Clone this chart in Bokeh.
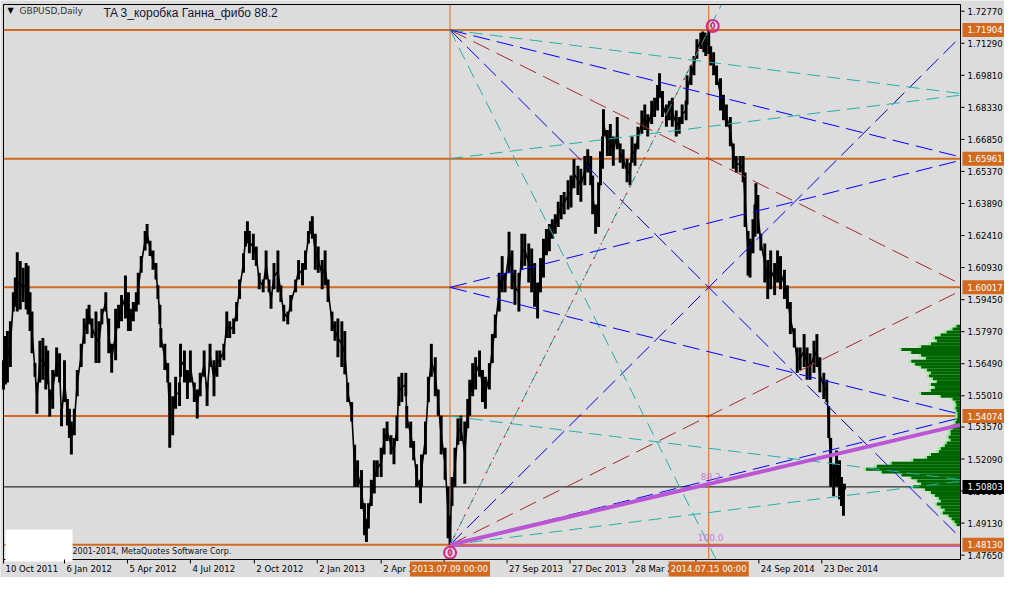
from bokeh.plotting import figure
from bokeh.models import Range1d
from bokeh.embed import file_html
from bokeh.resources import INLINE
from bokeh.core.properties import value

# ---------------- data ----------------
# trading-day index since 10 Oct 2011 (sampled), with the high / low of the bars around it
bar_index = [0,2,4,7,10,12,14,17,20,23,25,27,29,32,34,37,40,43,45,47,
             50,54,57,59,62,65,67,69,72,75,79,82,85,87,90,94,97,100,104,107,
             110,114,117,120,124,127,129,132,135,137,140,144,146,149,152,155,157,159,160,164,
             167,169,172,175,179,180,184,187,190,194,197,200,204,207,210,214,217,220,224,227,
             230,234,237,240,244,246,248,250,254,257,260,264,267,270,272,275,279,282,285,289,
             292,297,300,304,307,310,312,314,317,320,324,327,330,334,337,
             340,344,347,350,354,357,360,364,367,369,371,374,377,380,384,387,390,394,397,400,
             402,405,409,410,414,417,420,424,425,429,432,435,439,442,445,449,452,454,456,459,
             462,465,469,472,474,477,480,484,487,490,494,497,500,504,507,510,514,517,520,524,
             527,530,534,537,540,543,546,549,552,555,
             558,561,564,567,570,574,577,580,584,587,591,594,597,599,602,605,607,609,610,614,
             617,620,624,627,630,634,637,639,642,645,649,652,655,659,662,665,667,670,674,677,
             680,684,687,690,694,695,699,702,705,709,711,712,714,717,719,722,725,729,732,735,
             739,742,745,749,752,754,757,759,762,764,765,767,770,774,777,780,784,787,790,794,
             797,800,804,807,810,814,817,820,824,827,830,834,837,839,841,844,847,850,852,854,855]
bar_high = [1.5665,1.5777,1.5800,1.5845,1.5979,1.6047,1.6164,1.6123,1.6092,1.6114,1.6101,1.5979,1.5890,1.5652,1.5562,1.5755,1.5768,1.5732,1.5710,1.5530,
            1.5620,1.5724,1.5697,1.5441,1.5665,1.5486,1.5441,1.5382,1.5441,1.5620,1.5741,1.5858,1.5903,1.5921,1.5858,1.5890,1.5845,1.5903,1.5979,1.5858,
            1.5741,1.5903,1.5921,1.5966,1.6056,1.5979,1.5903,1.5934,1.5979,1.6069,1.6146,1.6262,1.6294,1.6217,1.6172,1.6114,1.6011,1.5921,1.5813,1.5741,
            1.5652,1.5562,1.5499,1.5589,1.5562,1.5741,1.5710,1.5620,1.5710,1.5562,1.5530,1.5607,1.5710,1.5562,1.5741,1.5665,1.5710,1.5710,1.5741,1.5890,
            1.5845,1.5858,1.5934,1.6038,1.6159,1.6262,1.6307,1.6262,1.6249,1.6190,1.6069,1.6038,1.6172,1.6038,1.5979,1.6114,1.6172,1.6011,1.5921,1.5890,
            1.5966,1.6038,1.6128,1.6114,1.6172,1.6262,1.6307,1.6330,1.6249,1.6190,1.6128,1.6172,1.6038,1.5890,1.5845,
            1.5858,1.5845,1.5800,1.5562,1.5472,1.5275,1.5203,1.5158,1.5005,1.4933,1.5005,1.5113,1.5203,1.5203,1.5261,1.5351,1.5382,1.5319,1.5306,1.5409,
            1.5589,1.5607,1.5607,1.5454,1.5382,1.5292,1.5185,1.5113,1.5230,1.5382,1.5589,1.5741,1.5679,1.5530,1.5409,1.5261,1.5081,1.4947,1.5126,1.5261,
            1.5396,1.5409,1.5382,1.5486,1.5575,1.5652,1.5679,1.5710,1.5620,1.5589,1.5652,1.5786,1.5876,1.6069,1.6146,1.6069,1.6258,1.6172,1.6083,1.6069,
            1.6249,1.6249,1.6204,1.6181,1.6114,1.6024,1.6137,1.6226,1.6271,1.6294,
            1.6316,1.6339,1.6397,1.6428,1.6442,1.6496,1.6518,1.6594,1.6563,1.6550,1.6608,1.6639,1.6608,1.6518,1.6384,1.6487,1.6630,1.6698,1.6824,1.6729,
            1.6756,1.6698,1.6788,1.6666,1.6639,1.6594,1.6577,1.6698,1.6666,1.6743,1.6819,1.6846,1.6801,1.6864,1.6877,1.6936,1.6990,1.6909,1.6846,1.6864,
            1.6877,1.6819,1.6788,1.6846,1.6864,1.6981,1.7026,1.7070,1.7147,1.7178,1.7183,1.7178,1.7178,1.71904,1.7115,1.7088,1.7026,1.6967,1.6891,1.6846,
            1.6788,1.6666,1.6608,1.6608,1.6608,1.6532,1.6262,1.6226,1.6316,1.6384,1.6482,1.6428,1.6249,1.6204,1.6128,1.6172,1.6114,1.6172,1.6146,1.6083,
            1.6011,1.5934,1.5813,1.5724,1.5724,1.5786,1.5724,1.5697,1.5755,1.5786,1.5679,1.5607,1.5575,1.5454,1.5306,1.5185,1.5248,1.5203,1.5126,1.5081,1.5095]
bar_low = [1.5530,1.5553,1.5562,1.5634,1.5890,1.5912,1.5890,1.5899,1.5934,1.5899,1.5876,1.5800,1.5697,1.5589,1.5418,1.5562,1.5575,1.5530,1.5553,1.5405,
           1.5441,1.5589,1.5562,1.5360,1.5472,1.5364,1.5306,1.5230,1.5319,1.5499,1.5634,1.5741,1.5786,1.5831,1.5768,1.5652,1.5652,1.5831,1.5890,1.5697,
           1.5607,1.5665,1.5813,1.5845,1.5858,1.5800,1.5800,1.5845,1.5890,1.5921,1.6069,1.6172,1.6204,1.6146,1.6083,1.6038,1.5948,1.5831,1.5724,1.5620,
           1.5562,1.5261,1.5319,1.5441,1.5454,1.5589,1.5562,1.5486,1.5562,1.5472,1.5396,1.5499,1.5589,1.5454,1.5634,1.5499,1.5589,1.5634,1.5665,1.5768,
           1.5768,1.5786,1.5845,1.5948,1.6069,1.6190,1.6204,1.6159,1.6128,1.6101,1.5993,1.5979,1.6038,1.5979,1.5903,1.5993,1.5979,1.5934,1.5845,1.5831,
           1.5890,1.5979,1.6038,1.6011,1.6083,1.6204,1.6249,1.6226,1.6083,1.6069,1.5993,1.6011,1.5934,1.5800,1.5755,
           1.5679,1.5634,1.5600,1.5472,1.5382,1.5081,1.5081,1.4978,1.4857,1.4826,1.4888,1.4992,1.5050,1.5126,1.5126,1.5230,1.5292,1.5230,1.5185,1.5292,
           1.5454,1.5472,1.5499,1.5351,1.5261,1.5203,1.5081,1.5005,1.5081,1.5230,1.5472,1.5589,1.5499,1.5409,1.5230,1.5113,1.4843,1.4813,1.4992,1.5081,
           1.5275,1.5292,1.5095,1.5351,1.5409,1.5499,1.5530,1.5589,1.5472,1.5441,1.5530,1.5652,1.5768,1.5890,1.5979,1.5979,1.6069,1.5993,1.5921,1.5890,
           1.6083,1.6101,1.6024,1.5979,1.5912,1.5858,1.5979,1.6047,1.6150,1.6168,
           1.6226,1.6249,1.6280,1.6316,1.6339,1.6361,1.6370,1.6460,1.6428,1.6397,1.6473,1.6532,1.6473,1.6339,1.6249,1.6280,1.6473,1.6550,1.6698,1.6608,
           1.6608,1.6563,1.6639,1.6577,1.6550,1.6487,1.6473,1.6577,1.6563,1.6639,1.6711,1.6729,1.6698,1.6756,1.6788,1.6819,1.6877,1.6788,1.6743,1.6774,
           1.6743,1.6698,1.6711,1.6756,1.6774,1.6846,1.6936,1.6981,1.7057,1.7102,1.7124,1.7088,1.7070,1.7079,1.7026,1.6981,1.6936,1.6819,1.6774,1.6743,
           1.6653,1.6550,1.6532,1.6532,1.6487,1.6280,1.6056,1.6047,1.6159,1.6235,1.6361,1.6249,1.6172,1.6024,1.5948,1.5993,1.5966,1.6024,1.5993,1.5948,
           1.5903,1.5786,1.5724,1.5607,1.5620,1.5634,1.5575,1.5575,1.5607,1.5634,1.5517,1.5486,1.5472,1.5306,1.5081,1.5037,1.5081,1.5023,1.4992,1.4947,1.5068]

# Gann box anchors: low of 2013.07.09 and high of 2014.07.15
box_start_bar = 454
box_end_bar = 717
box_start_label = "2013.07.09 00:00"
box_end_label = "2014.07.15 00:00"
box_low = 1.48130
box_high = 1.71904
gann_levels = [1.71904, 1.65961, 1.60017, 1.54074, 1.48130]
last_price = 1.50803

# fan lines: start fraction of box height at box start -> fraction reached at box end
fan_start_frac = [0, 0, 0, 0, 0, 1, 1, 1, 1, 1, 0.5, 0.5, 0.25, 0.75]
fan_end_frac = [0.0625, 0.125, 0.25, 0.5, 1.0, 0.9375, 0.875, 0.75, 0.5, 0.0, 0.625, 0.375, 0.1875, 0.8125]
fan_kind = ["teal", "blue", "brown", "blue", "teal", "teal", "blue", "brown", "blue", "teal",
            "blue", "blue", "teal", "teal"]

fib_levels = [88.2, 100.0]

# market profile at the right edge
profile_price = [1.5822,1.5809,1.5795,1.5782,1.5768,1.5755,1.5741,1.5728,1.5715,1.5701,1.5688,1.5674,1.5661,1.5647,
                 1.5634,1.5620,1.5607,1.5593,1.5580,1.5566,1.5553,1.5539,1.5526,1.5512,1.5499,1.5486,1.5472,1.5459,
                 1.5445,1.5432,1.5418,1.5405,1.5391,1.5378,1.5364,1.5351,1.5337,1.5324,1.5310,1.5297,1.5283,1.5270,
                 1.5257,1.5243,1.5230,1.5216,1.5203,1.5189,1.5176,1.5162,1.5149,1.5135,1.5122,1.5108,1.5095,1.5081,
                 1.5068,1.5054,1.5041,1.5028,1.5014,1.5001,1.4987,1.4974,1.4960,1.4947,1.4933,1.4920,1.4906]
profile_len = [4,8,14,20,26,24,30,40,60,50,40,35,50,46,
               40,34,30,32,28,24,30,26,30,40,20,8,5,4,
               5,4,3,3,4,5,7,8,10,10,12,10,14,16,
               20,22,30,34,48,70,85,96,80,60,50,44,40,48,
               36,30,26,22,20,24,20,16,18,12,9,6,4]

price_ticks = [1.72770, 1.71290, 1.69810, 1.68330, 1.66850, 1.65370, 1.63890, 1.62410, 1.60930,
               1.59450, 1.57970, 1.56490, 1.55010, 1.53570, 1.52090, 1.50610, 1.49130, 1.47650]
date_tick_bars = [0, 62, 126, 190, 255, 319, 384, 448, 512, 576, 640, 704, 768, 832]
date_tick_labels = ["10 Oct 2011", "6 Jan 2012", "5 Apr 2012", "4 Jul 2012", "2 Oct 2012", "2 Jan 2013",
                    "2 Apr 2013", "", "27 Sep 2013", "27 Dec 2013", "28 Mar 2014", "", "24 Sep 2014", "23 Dec 2014"]

symbol_text = "GBPUSD,Daily"
title_text = "TA 3_коробка Ганна_фибо 88.2"
copyright_text = "2001-2014, MetaQuotes Software Corp."

# ---------------- style / layout ----------------
BG = "#DCDCDC"
ORANGE = "#D2691E"
COLORS = {"teal": "#20B2AA", "blue": "#0000FF", "brown": "#A52A2A"}
DASHES = {"teal": "13 7", "blue": "17 7", "brown": "18 8"}
MAGENTA = "#BA55D3"
PINK = "#D6248A"
FIB_TXT = "#C77DD9"
FONT = value("DejaVu Sans")
FS = "8.5px"

CW, CH = 1004, 577              # canvas
CL, CR, CT, CB = 3, 960, 4, 559  # chart area inside the canvas (pixels)
X0, X1 = 0, 973                  # bars shown
Y0, Y1 = 1.4745, 1.7308          # prices shown
bx = (X1 - X0) / (CR - CL)       # bars per pixel
py = (Y1 - Y0) / (CB - CT)       # price per pixel

p = figure(width=CW, height=CH,
           x_range=Range1d(X0 - CL * bx, X1 + (CW - CR) * bx),
           y_range=Range1d(Y0 - (CH - CB) * py, Y1 + CT * py),
           x_axis_type=None, y_axis_type=None, output_backend="svg",
           toolbar_location=None, min_border=0)
p.background_fill_color = BG
p.border_fill_color = BG
p.outline_line_color = None


def clip_end(xs, ps, xe, pe):
    """cut a line from (xs, ps) to (xe, pe) at the top / bottom of the chart"""
    if pe > Y1:
        xe = xs + (xe - xs) * (Y1 - ps) / (pe - ps)
        pe = Y1
    elif pe < Y0:
        xe = xs + (xe - xs) * (Y0 - ps) / (pe - ps)
        pe = Y0
    return xe, pe


# horizontal / vertical reference lines
p.segment(x0=[X0] * len(gann_levels), x1=[X1] * len(gann_levels), y0=gann_levels, y1=gann_levels,
          line_color=ORANGE, line_width=2)
p.segment(x0=[X0], x1=[X1], y0=[last_price], y1=[last_price], line_color="black", line_width=1)
p.segment(x0=[box_start_bar, box_end_bar], x1=[box_start_bar, box_end_bar], y0=[Y0, Y0], y1=[Y1, Y1],
          line_color=ORANGE, line_width=1)

# price bars (high-low ranges, joined through their middles)
bar_mid = [(h + l) / 2 for h, l in zip(bar_high, bar_low)]
p.line(bar_index, bar_mid, line_color="black", line_width=1.6)
p.vbar(x=bar_index, width=3.0, top=bar_high, bottom=bar_low, fill_color="black", line_color=None)

# market profile
p.hbar(y=profile_price, height=0.00138, left=[X1 - l - 2.5 for l in profile_len], right=X1,
       fill_color="#90EE90", line_color=None)
p.hbar(y=profile_price, height=0.00138, left=[X1 - l for l in profile_len], right=X1,
       fill_color="#006400", line_color=None)

# Gann fan lines
rng = box_high - box_low
span_x = box_end_bar - box_start_bar
for f0, f1, kind in zip(fan_start_frac, fan_end_frac, fan_kind):
    p0 = box_low + f0 * rng
    p1 = box_low + f1 * rng
    pe = p0 + (p1 - p0) * (X1 - box_start_bar) / span_x
    xe, pe = clip_end(box_start_bar, p0, X1, pe)
    p.line([box_start_bar, xe], [p0, pe], line_color=COLORS[kind], line_dash=DASHES[kind], line_width=1)

# trend line between the two anchors
p.line([box_start_bar, box_end_bar], [box_low, box_high], line_color="#FF0000", line_dash="2 6", line_width=1)

# Fibonacci fan 88.2 / 100
for lv in fib_levels:
    pt = box_high - lv / 100.0 * rng
    pe = box_low + (pt - box_low) * (X1 - box_start_bar) / span_x
    shift = 0 if lv < 100 else 1.5 * py
    p.line([box_start_bar, X1], [box_low - shift, pe - shift],
           line_color=MAGENTA, line_width=4 if lv < 100 else 1.5)
    p.text([box_end_bar + 2 * bx], [pt + 4 * py], text=[f"{lv:.1f}"], text_align="center",
           text_baseline="bottom", text_color=FIB_TXT, text_font=FONT, text_font_size="9px")

# anchor markers
mk_x = [box_start_bar, box_end_bar + 4 * bx]
mk_y = [box_low - 8 * py, box_high + 4 * py]
p.scatter(mk_x, mk_y, marker="circle", size=12, fill_color=None, line_color=PINK, line_width=2)
p.text(mk_x, mk_y, text=["0", "0"], text_align="center", text_baseline="middle",
       text_font=FONT, text_font_size="8px", text_font_style="bold", text_color=PINK)

# chart frame
p.quad(left=[X0], right=[X1], bottom=[Y0], top=[Y1], fill_color=None, line_color="black", line_width=1)

# header texts
p.text([X0 + 4 * bx], [Y1 - 6 * py], text=["▼"], text_baseline="middle", text_align="left",
       text_font=FONT, text_font_size="8px", text_color="black")
p.text([X0 + 16 * bx], [Y1 - 6 * py], text=[symbol_text], text_baseline="middle", text_align="left",
       text_font=FONT, text_font_size="9px", text_color="#333333")
p.text([X0 + 100 * bx], [Y1 - 8 * py], text=[title_text], text_baseline="middle", text_align="left",
       text_font=value("Liberation Sans"), text_font_size="12px", text_color="#15153A")

# copyright block
p.quad(left=[X0 + 2 * bx], right=[X0 + 69 * bx], bottom=[Y0 - 2 * py], top=[Y0 + 30 * py],
       fill_color="white", line_color=None)
p.text([X0 + 69 * bx], [Y0 + 8 * py], text=[copyright_text], text_baseline="middle", text_align="left",
       text_font=FONT, text_font_size="8px", text_color="#111111")

# ---- bottom time scale ----
p.segment(x0=date_tick_bars, x1=date_tick_bars, y0=[Y0] * len(date_tick_bars),
          y1=[Y0 - 4 * py] * len(date_tick_bars), line_color="black", line_width=1)
shown = [(b, t) for b, t in zip(date_tick_bars, date_tick_labels) if t]
p.text([b + 2 * bx for b, _ in shown], [Y0 - 9.5 * py] * len(shown), text=[t for _, t in shown],
       text_align="left", text_baseline="middle", text_font=FONT, text_font_size=FS, text_color="black")
bx_bars = [box_start_bar, box_end_bar]
bx_text = [box_start_label, box_end_label]
p.rect(x=bx_bars, y=[Y0 - 9.5 * py] * 2, width=80 * bx, height=15 * py, fill_color=ORANGE, line_color=None)
p.text(bx_bars, [Y0 - 9.5 * py] * 2, text=bx_text, text_align="center", text_baseline="middle",
       text_font=FONT, text_font_size=FS, text_color="white")

# ---- right price scale ----
p.segment(x0=[X1] * len(price_ticks), x1=[X1 + 4 * bx] * len(price_ticks), y0=price_ticks, y1=price_ticks,
          line_color="black", line_width=1)
p.text([X1 + 7 * bx] * len(price_ticks), price_ticks, text=[f"{v:.5f}" for v in price_ticks],
       text_align="left", text_baseline="middle", text_font=FONT, text_font_size=FS, text_color="black")
box_w = (CW - CR - 2) * bx
box_cx = X1 + 2 * bx + box_w / 2
p.rect(x=[box_cx] * len(gann_levels), y=gann_levels, width=box_w, height=14 * py,
       fill_color=ORANGE, line_color=None)
p.text([X1 + 7 * bx] * len(gann_levels), gann_levels, text=[f"{v:.5f}" for v in gann_levels],
       text_align="left", text_baseline="middle", text_font=FONT, text_font_size=FS, text_color="white")
p.rect(x=[box_cx], y=[last_price], width=box_w, height=14 * py, fill_color="black", line_color=None)
p.text([X1 + 7 * bx], [last_price], text=[f"{last_price:.5f}"], text_align="left", text_baseline="middle",
       text_font=FONT, text_font_size=FS, text_color="white")

open("out.html", "w").write(file_html(p, INLINE))
